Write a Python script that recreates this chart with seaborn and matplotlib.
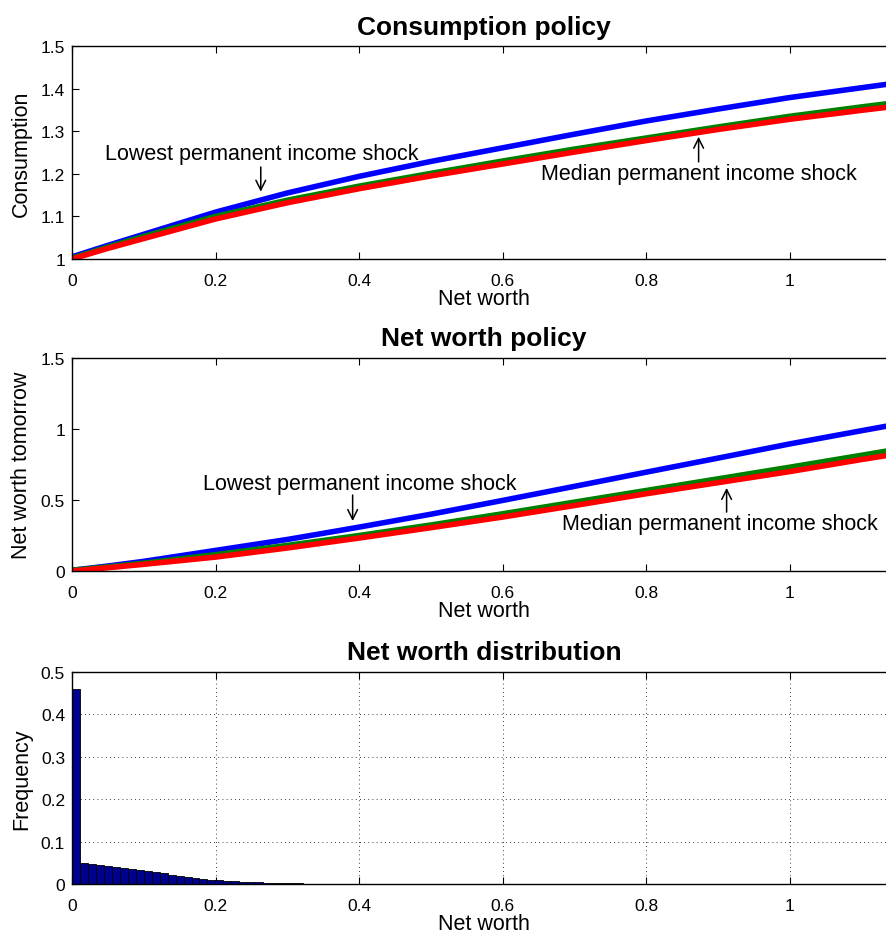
import numpy as np
import pandas as pd
import matplotlib
matplotlib.use('Agg')
import matplotlib.pyplot as plt
import seaborn as sns

# net worth grid for the policy functions
net_worth = [0.0, 0.05, 0.1, 0.2, 0.3, 0.4, 0.5, 0.6, 0.7, 0.8, 0.9, 1.0, 1.1, 1.2]

# consumption policy (lowest / middle / median permanent income shock)
cons_low = [1.005, 1.032, 1.058, 1.110, 1.155, 1.194, 1.229, 1.261, 1.293, 1.324, 1.352, 1.379, 1.402, 1.425]
cons_mid = [1.002, 1.028, 1.053, 1.100, 1.138, 1.171, 1.201, 1.230, 1.258, 1.284, 1.310, 1.335, 1.357, 1.378]
cons_med = [1.000, 1.025, 1.048, 1.094, 1.132, 1.165, 1.195, 1.223, 1.251, 1.278, 1.304, 1.328, 1.349, 1.369]

# net worth policy
nw_low = [0.005, 0.035, 0.068, 0.145, 0.222, 0.309, 0.400, 0.497, 0.596, 0.696, 0.795, 0.895, 0.988, 1.080]
nw_mid = [0.005, 0.029, 0.055, 0.115, 0.180, 0.250, 0.324, 0.403, 0.485, 0.567, 0.649, 0.731, 0.815, 0.900]
nw_med = [0.000, 0.023, 0.047, 0.098, 0.162, 0.232, 0.305, 0.380, 0.461, 0.544, 0.622, 0.700, 0.785, 0.865]

# net worth distribution
bin_width = 0.0111
hist_freq = [0.460, 0.049, 0.047, 0.045, 0.0425, 0.040, 0.038, 0.0355, 0.033, 0.030,
             0.0275, 0.025, 0.022, 0.0195, 0.017, 0.015, 0.0125, 0.010, 0.009, 0.008,
             0.0068, 0.0058, 0.0049, 0.0040, 0.0033, 0.0027, 0.0021, 0.0016, 0.0012,
             0.0009, 0.0006, 0.0004, 0.0002, 0.0001]

x_ticks = [0, 0.2, 0.4, 0.6, 0.8, 1]
x_ticklabels = ['0', '0.2', '0.4', '0.6', '0.8', '1']

sns.set_style('white')
plt.rcParams['font.family'] = ['Liberation Sans', 'DejaVu Sans']
plt.rcParams['text.color'] = 'black'
plt.rcParams['axes.labelcolor'] = 'black'
plt.rcParams['xtick.color'] = 'black'
plt.rcParams['ytick.color'] = 'black'

fig = plt.figure(figsize=(8.87, 9.37), dpi=100)

left = 72 / 887
width = 824 / 887
xmax = 1.148
arrow = '->,head_length=0.7,head_width=0.35'


def style_axes(ax):
    ax.set_xlim(0, xmax)
    ax.set_xticks(x_ticks)
    ax.set_xticklabels(x_ticklabels)
    ax.tick_params(direction='in', length=5, width=0.8, labelsize=12.5,
                   top=True, right=True, bottom=True, left=True, pad=5)
    ax.tick_params(axis='x', pad=10)
    for s in ax.spines.values():
        s.set_color('black')
        s.set_linewidth(1.0)
    ax.set_xlabel('Net worth', fontsize=15.5, labelpad=0)


def add_labels(ax, low_txt, low_arrow, med_txt, med_arrow):
    ax.text(low_txt[0], low_txt[1], 'Lowest permanent income shock',
            fontsize=15.5, ha='left', va='center')
    ax.annotate('', xy=(low_arrow[0], low_arrow[2]), xytext=(low_arrow[0], low_arrow[1]),
                arrowprops=dict(arrowstyle=arrow, color='black', lw=1.1,
                                shrinkA=0, shrinkB=0))
    ax.text(med_txt[0], med_txt[1], 'Median permanent income shock',
            fontsize=15.5, ha='left', va='center')
    ax.annotate('', xy=(med_arrow[0], med_arrow[2]), xytext=(med_arrow[0], med_arrow[1]),
                arrowprops=dict(arrowstyle=arrow, color='black', lw=1.1,
                                shrinkA=0, shrinkB=0))


# consumption policy
ax1 = fig.add_axes([left, 1 - 260 / 937, width, 213 / 937])
sns.lineplot(x=net_worth, y=cons_low, color='#0000ff', lw=4, ax=ax1)
sns.lineplot(x=net_worth, y=cons_mid, color='#008000', lw=4, ax=ax1)
sns.lineplot(x=net_worth, y=cons_med, color='#ff0000', lw=4, ax=ax1)
style_axes(ax1)
ax1.set_ylim(1, 1.5)
ax1.set_yticks([1, 1.1, 1.2, 1.3, 1.4, 1.5])
ax1.set_yticklabels(['1', '1.1', '1.2', '1.3', '1.4', '1.5'])
ax1.set_ylabel('Consumption', fontsize=15.5, labelpad=6)
ax1.set_title('Consumption policy', fontsize=19, fontweight='bold', pad=9)
add_labels(ax1, (0.046, 1.247), (0.263, 1.216, 1.158), (0.654, 1.20), (0.873, 1.228, 1.287))

# net worth policy
ax2 = fig.add_axes([left, 1 - 572 / 937, width, 213 / 937])
sns.lineplot(x=net_worth, y=nw_low, color='#0000ff', lw=4, ax=ax2)
sns.lineplot(x=net_worth, y=nw_mid, color='#008000', lw=4, ax=ax2)
sns.lineplot(x=net_worth, y=nw_med, color='#ff0000', lw=4, ax=ax2)
style_axes(ax2)
ax2.set_ylim(0, 1.5)
ax2.set_yticks([0, 0.5, 1, 1.5])
ax2.set_yticklabels(['0', '0.5', '1', '1.5'])
ax2.set_ylabel('Net worth tomorrow', fontsize=15.5, labelpad=6)
ax2.set_title('Net worth policy', fontsize=19, fontweight='bold', pad=9)
add_labels(ax2, (0.182, 0.617), (0.391, 0.535, 0.352), (0.682, 0.338), (0.912, 0.415, 0.585))

# net worth distribution
ax3 = fig.add_axes([left, 1 - 885 / 937, width, 212 / 937])
n_bins = len(hist_freq)
dist = pd.DataFrame({'net_worth': (np.arange(n_bins) + 0.5) * bin_width, 'freq': hist_freq})
sns.histplot(data=dist, x='net_worth', weights='freq', binwidth=bin_width,
             binrange=(0, n_bins * bin_width), color='#00008f',
             edgecolor='black', linewidth=0.6, alpha=1.0, ax=ax3)
style_axes(ax3)
ax3.set_ylim(0, 0.5)
ax3.set_yticks([0, 0.1, 0.2, 0.3, 0.4, 0.5])
ax3.set_yticklabels(['0', '0.1', '0.2', '0.3', '0.4', '0.5'])
ax3.set_ylabel('Frequency', fontsize=15.5, labelpad=6)
ax3.set_title('Net worth distribution', fontsize=19, fontweight='bold', pad=9)
ax3.grid(True, linestyle=(0, (1, 4)), color='black', linewidth=0.6)
ax3.set_axisbelow(True)

fig.savefig('out.png', dpi=100)
